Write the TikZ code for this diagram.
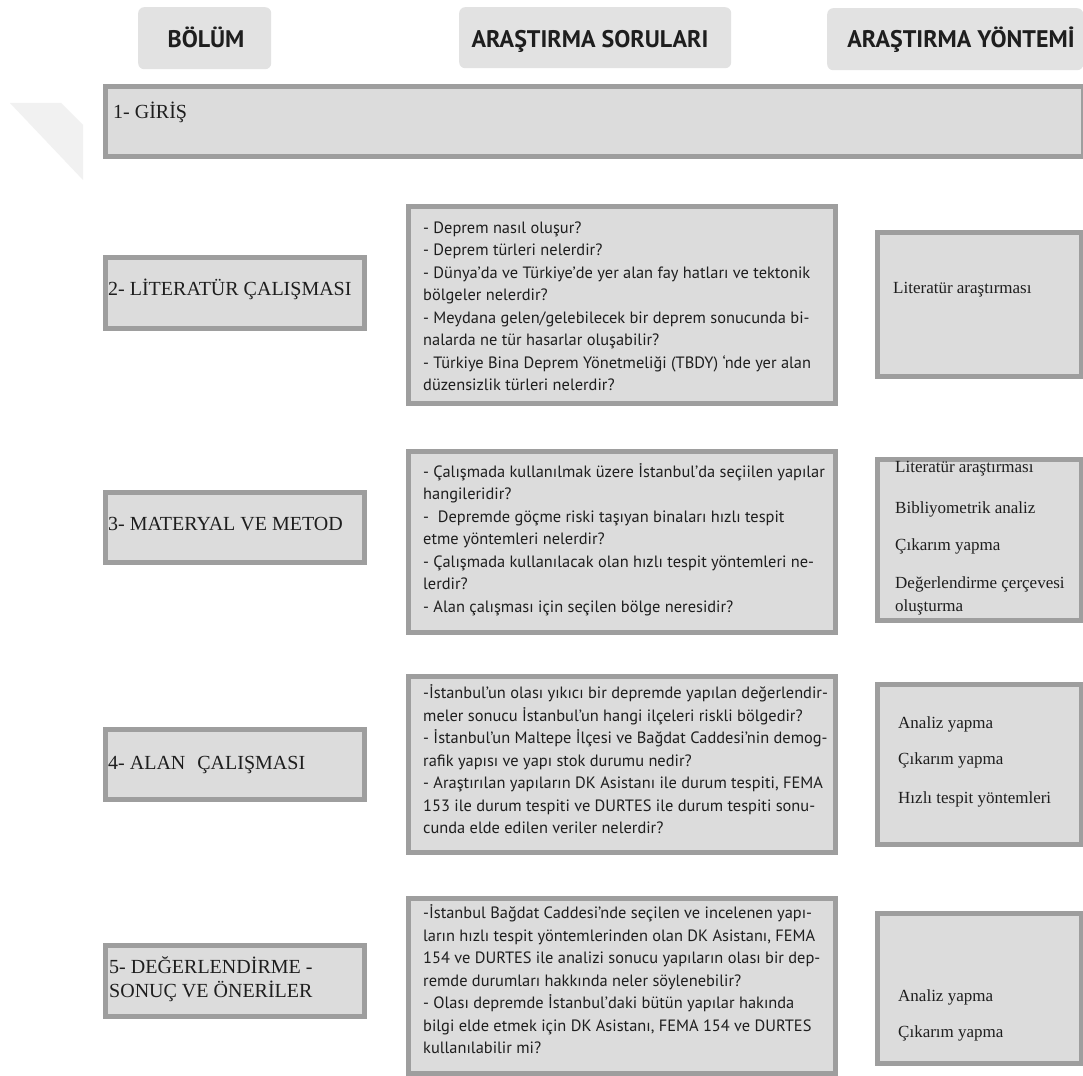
\documentclass[tikz,border=0pt]{standalone}
\usepackage{fontspec}
\setmainfont{Liberation Serif}
\newfontfamily\qfont{PT Sans}
\definecolor{boxgray}{HTML}{DCDCDC}
\definecolor{bordergray}{HTML}{9E9E9E}
\definecolor{headgray}{HTML}{E2E2E2}
\definecolor{shadegray}{HTML}{F1F1F1}
\definecolor{ink}{HTML}{1E1E1E}
\tikzset{
  qbox/.style={draw=bordergray, line width=5pt, fill=boxgray, inner sep=0pt, anchor=north west},
  hbox/.style={fill=headgray, rounded corners=6pt, inner sep=0pt, anchor=north west},
  htext/.style={font={\qfont\bfseries\fontsize{24}{28}\selectfont}, text=ink, inner sep=0pt, anchor=center, text height=0.75em, text depth=0.2em, yshift=-5pt},
  ltext/.style={font={\fontsize{20}{25}\selectfont}, text=ink, inner sep=0pt, anchor=west, text height=0.75em, text depth=0.15em, yshift=-4pt},
  rtext/.style={font={\fontsize{17}{23}\selectfont}, text=ink, inner sep=0pt, anchor=west, text height=0.75em, text depth=0.15em, yshift=-3.5pt},
  qtext/.style={font={\qfont\fontsize{16.4}{22.5}\selectfont}, text=ink, inner sep=0pt, anchor=west, align=left},
}
\begin{document}
\begin{tikzpicture}[x=1pt,y=-1pt]
\useasboundingbox (0,0) rectangle (1083,1075);
\fill[white] (0,0) rectangle (1083,1075);
% shade
\fill[shadegray] (10,103) -- (61,103) -- (83,125) -- (83,180) -- cycle;
% headers
\node[hbox, minimum width=133pt, minimum height=62pt] (h1) at (138,7) {};
\node[hbox, minimum width=272pt, minimum height=61pt] (h2) at (459,7) {};
\node[hbox, minimum width=256pt, minimum height=62pt] (h3) at (827,8) {};
\node[htext] (h1t) at (206,40) {BÖLÜM};
\node[htext] (h2t) at (590,40) {ARAŞTIRMA SORULARI};
\node[htext] (h3t) at (961,40) {ARAŞTIRMA YÖNTEMİ};
% giris
\node[qbox, minimum width=978pt, minimum height=70pt] (g) at (102.5,84.5) {};
\node[ltext] (gt) at (113,112) {1- GİRİŞ};
% row 2
\node[qbox, minimum width=259pt, minimum height=71pt] (l2) at (102.5,254.5) {};
\node[qbox, minimum width=427pt, minimum height=196pt] (m2) at (405.5,204.5) {};
\node[qbox, minimum width=204pt, minimum height=143pt] (r2) at (874.5,230.5) {};
\node[ltext] (l2t) at (108,288) {2- LİTERATÜR ÇALIŞMASI};
\node[qtext] (m2t) at (423,306.5) {- Deprem nasıl oluşur?\\
- Deprem türleri nelerdir?\\
- Dünya’da ve Türkiye’de yer alan fay hatları ve tektonik\\
bölgeler nelerdir?\\
- Meydana gelen/gelebilecek bir deprem sonucunda bi-\\
nalarda ne tür hasarlar oluşabilir?\\
- Türkiye Bina Deprem Yönetmeliği (TBDY) ‘nde yer alan\\
düzensizlik türleri nelerdir?};
\node[rtext] (r2a) at (893,287) {Literatür araştırması};
% row 3
\node[qbox, minimum width=259pt, minimum height=70pt] (l3) at (102.5,489.5) {};
\node[qbox, minimum width=427pt, minimum height=181pt] (m3) at (405.5,448.5) {};
\node[qbox, minimum width=204pt, minimum height=161pt] (r3) at (874.5,456.5) {};
\node[ltext] (l3t) at (108,523) {3- MATERYAL VE METOD};
\node[qtext] (m3t) at (423,539.5) {- Çalışmada kullanılmak üzere İstanbul’da seçiilen yapılar\\
hangileridir?\\
-\ \ Depremde göçme riski taşıyan binaları hızlı tespit\\
etme yöntemleri nelerdir?\\
- Çalışmada kullanılacak olan hızlı tespit yöntemleri ne-\\
lerdir?\\
- Alan çalışması için seçilen bölge neresidir?};
\node[rtext] (r3a) at (895,466) {Literatür araştırması};
\node[rtext] (r3b) at (895,507) {Bibliyometrik analiz};
\node[rtext] (r3c) at (895,544) {Çıkarım yapma};
\node[rtext] (r3d) at (895,582) {Değerlendirme çerçevesi};
\node[rtext] (r3e) at (895,605) {oluşturma};
% row 4
\node[qbox, minimum width=259pt, minimum height=70pt] (l4) at (102.5,726.5) {};
\node[qbox, minimum width=427pt, minimum height=176pt] (m4) at (405.5,673.5) {};
\node[qbox, minimum width=204pt, minimum height=160pt] (r4) at (874.5,681.5) {};
\node[ltext] (l4t) at (108,762) {4- ALAN\hspace{0.35em} ÇALIŞMASI};
\node[qtext] (m4t) at (423,759.5) {-İstanbul’un olası yıkıcı bir depremde yapılan değerlendir-\\
meler sonucu İstanbul’un hangi ilçeleri riskli bölgedir?\\
- İstanbul’un Maltepe İlçesi ve Bağdat Caddesi’nin demog-\\
rafik yapısı ve yapı stok durumu nedir?\\
- Araştırılan yapıların DK Asistanı ile durum tespiti, FEMA\\
153 ile durum tespiti ve DURTES ile durum tespiti sonu-\\
cunda elde edilen veriler nelerdir?};
\node[rtext] (r4a) at (898,722) {Analiz yapma};
\node[rtext] (r4b) at (898,758) {Çıkarım yapma};
\node[rtext] (r4c) at (898,797) {Hızlı tespit yöntemleri};
% row 5
\node[qbox, minimum width=259pt, minimum height=71pt] (l5) at (102.5,942.5) {};
\node[qbox, minimum width=427pt, minimum height=175pt] (m5) at (405.5,895.5) {};
\node[qbox, minimum width=204pt, minimum height=150pt] (r5) at (874.5,910.5) {};
\node[ltext] (l5a) at (109,966) {5- DEĞERLENDİRME -};
\node[ltext] (l5b) at (109,990) {SONUÇ VE ÖNERİLER};
\node[qtext] (m5t) at (423,979.5) {-İstanbul Bağdat Caddesi’nde seçilen ve incelenen yapı-\\
ların hızlı tespit yöntemlerinden olan DK Asistanı, FEMA\\
154 ve DURTES ile analizi sonucu yapıların olası bir dep-\\
remde durumları hakkında neler söylenebilir?\\
- Olası depremde İstanbul’daki bütün yapılar hakında\\
bilgi elde etmek için DK Asistanı, FEMA 154 ve DURTES\\
kullanılabilir mi?};
\node[rtext] (r5a) at (898,995) {Analiz yapma};
\node[rtext] (r5b) at (898,1031) {Çıkarım yapma};
\end{tikzpicture}
\end{document}
